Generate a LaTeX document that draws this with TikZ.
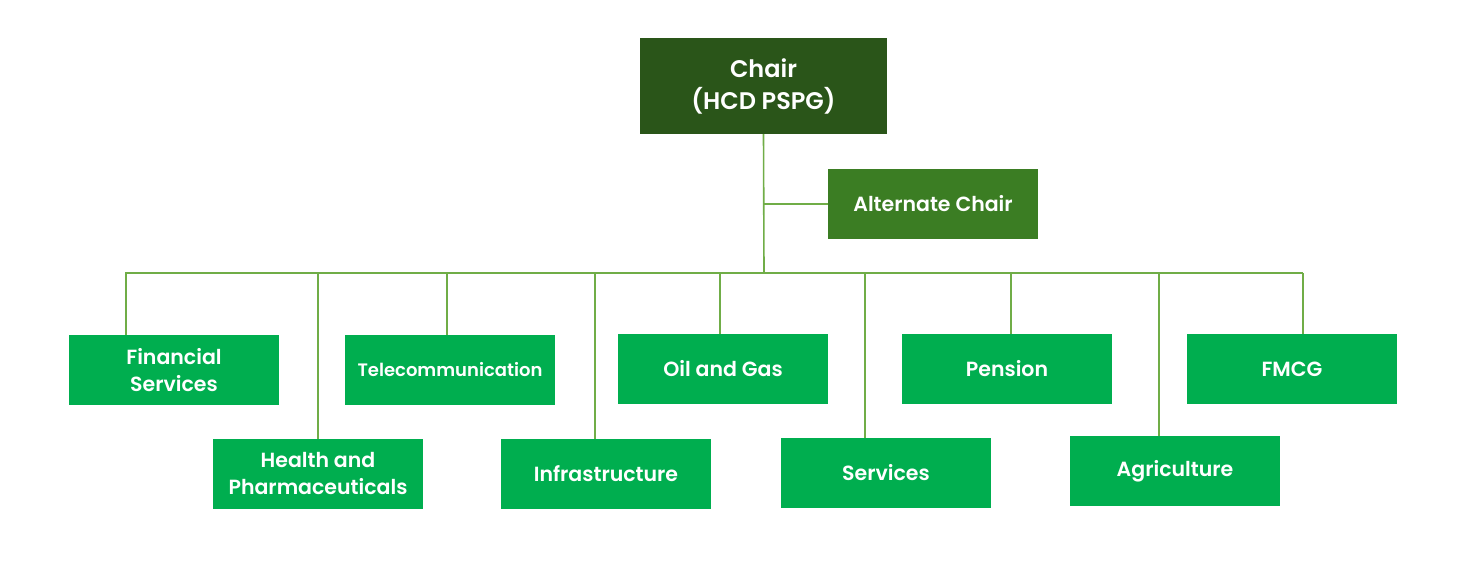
\documentclass[tikz,border=0pt]{standalone}
\usepackage{fontspec}
\newfontfamily\pf{Poppins SemiBold}
\definecolor{boxgreen}{HTML}{00AE4F}
\definecolor{chairgreen}{HTML}{2A5519}
\definecolor{altgreen}{HTML}{3B7D23}
\definecolor{linegreen}{HTML}{70AD47}
\begin{document}
\begin{tikzpicture}[x=1pt,y=-1pt,
  unit/.style={fill=boxgreen,text=white,minimum width=210pt,minimum height=70pt,inner sep=0pt,align=center,font=\pf\fontsize{20.5}{27}\selectfont},
  link/.style={draw=linegreen,line width=1.6pt}]
\useasboundingbox (0,0) rectangle (1470,586);
% connectors first (coordinates)
\coordinate (trunk) at (764,273);
\coordinate (busL) at (125,273);
\coordinate (busR) at (1303,273);
\coordinate (bfin) at (126,273);
\coordinate (bhea) at (318,273);
\coordinate (btel) at (447,273);
\coordinate (binf) at (595,273);
\coordinate (boil) at (720,273);
\coordinate (bser) at (865,273);
\coordinate (bpen) at (1011,273);
\coordinate (bagr) at (1159,273);
\coordinate (bfmc) at (1303,273);
\coordinate (altj) at (764,204);
% nodes
\node[fill=chairgreen,text=white,minimum width=247pt,minimum height=96pt,inner sep=0pt,align=center,font=\pf\fontsize{24}{32}\selectfont] (chair) at (763.5,86) {Chair\\(HCD PSPG)};
\node[unit,fill=altgreen] (alt) at (933,204) {Alternate Chair};
\node[unit] (fin) at (174,370) {Financial\\Services};
\node[unit] (hea) at (318,474) {Health and\\Pharmaceuticals};
\node[unit,font=\pf\fontsize{18}{24}\selectfont] (tel) at (450,370) {Telecommunication};
\node[unit] (inf) at (606,474) {Infrastructure};
\node[unit] (oil) at (723,369) {Oil and Gas};
\node[unit] (ser) at (886,473) {Services};
\node[unit] (pen) at (1007,369) {Pension};
\node[unit] (agr) at (1175,471) {Agriculture};
\node[unit] (fmc) at (1292,369) {FMCG};
% connectors
\draw[link] (chair.south) -- (trunk);
\draw[link] (altj) -- (alt.west);
\draw[link] (busL) -- (busR);
\draw[link] (bfin) -- (bfin |- fin.north);
\draw[link] (bhea) -- (bhea |- hea.north);
\draw[link] (btel) -- (btel |- tel.north);
\draw[link] (binf) -- (binf |- inf.north);
\draw[link] (boil) -- (boil |- oil.north);
\draw[link] (bser) -- (bser |- ser.north);
\draw[link] (bpen) -- (bpen |- pen.north);
\draw[link] (bagr) -- (bagr |- agr.north);
\draw[link] (bfmc) -- (bfmc |- fmc.north);
\end{tikzpicture}
\end{document}
